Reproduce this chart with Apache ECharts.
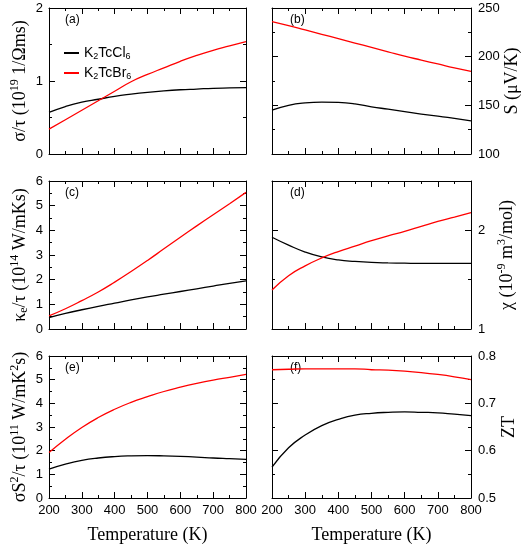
<!DOCTYPE html>
<html><head><meta charset="utf-8">
<script src="https://cdn.jsdelivr.net/npm/echarts@6/dist/echarts.min.js"></script>
<style>html,body{margin:0;padding:0;background:#fff}#c{width:524px;height:545px}</style>
</head><body><div id="c"></div>
<script>
const temps = [200,250,300,350,400,450,500,550,600,650,700,750,800];
const seriesNames = ['K2TcCl6','K2TcBr6'];
// (a) sigma/tau
const sigmaCl = [0.57,0.65,0.71,0.75,0.79,0.82,0.845,0.865,0.88,0.89,0.90,0.905,0.91];
const sigmaBr = [0.34,0.47,0.60,0.73,0.86,0.99,1.09,1.18,1.27,1.35,1.42,1.48,1.54];
// (b) S
const seebCl = [145,150,152.5,153.3,153,151.5,148.5,146,143.5,141,139,136.5,134];
const seebBr = [236,232,227.5,223,218.5,214,209.5,205,200.5,196.5,192.5,188.5,185];
// (c) kappa_e/tau
const kappaCl = [0.46,0.63,0.78,0.92,1.05,1.18,1.30,1.41,1.52,1.63,1.74,1.85,1.95];
const kappaBr = [0.53,0.82,1.15,1.50,1.90,2.33,2.78,3.25,3.72,4.18,4.63,5.08,5.54];
// (d) chi
const chiCl = [1.93,1.85,1.78,1.73,1.70,1.685,1.675,1.67,1.667,1.665,1.665,1.665,1.665];
const chiBr = [1.395,1.54,1.64,1.72,1.785,1.84,1.895,1.945,1.99,2.04,2.09,2.135,2.18];
// (e) power factor
const pfCl = [1.22,1.43,1.59,1.69,1.75,1.78,1.79,1.78,1.76,1.73,1.69,1.66,1.63];
const pfBr = [1.92,2.48,2.98,3.40,3.75,4.04,4.28,4.50,4.68,4.84,4.98,5.10,5.22];
// (f) ZT
const ztCl = [0.565,0.606,0.633,0.653,0.666,0.675,0.679,0.681,0.682,0.681,0.680,0.677,0.674];
const ztBr = [0.771,0.772,0.773,0.773,0.773,0.773,0.771,0.770,0.768,0.765,0.761,0.756,0.750];
const xTicks = {min:200, max:800, interval:100};
const panelLabels = ['(a)','(b)','(c)','(d)','(e)','(f)'];

const serif = 'Liberation Serif';
const sans = 'Liberation Sans';
const nameRich = {
  n:{fontFamily:serif,fontSize:18,color:'#000'},
  sup:{fontFamily:serif,fontSize:12,color:'#000',padding:[0,0,10,0]},
  sub:{fontFamily:serif,fontSize:12,color:'#000',padding:[8,0,0,0]}
};
const panels = [
  {grid:{left:49,top:8,width:197,height:146}, y:{min:0,max:2,interval:1}, side:'left',
   name:'{n|σ/τ (10}{sup|19}{n| 1/Ωms)}', data:[sigmaCl,sigmaBr], xl:false},
  {grid:{left:272,top:8,width:199,height:146}, y:{min:100,max:250,interval:50}, side:'right',
   name:'{n|S (μV/K)}', data:[seebCl,seebBr], xl:false},
  {grid:{left:49,top:181,width:197,height:148}, y:{min:0,max:6,interval:1}, side:'left',
   name:'{n|κ}{sub|e}{n|/τ (10}{sup|14}{n| W/mKs)}', data:[kappaCl,kappaBr], xl:false},
  {grid:{left:272,top:181,width:199,height:148}, y:{min:1,max:2.5,interval:1}, side:'right',
   name:'{n|χ (10}{sup|-9}{n| m}{sup|3}{n|/mol)}', data:[chiCl,chiBr], xl:false, noMax:true},
  {grid:{left:49,top:356,width:197,height:148}, y:{min:0,max:6,interval:1}, side:'left',
   name:'{n|σS}{sup|2}{n|/τ (10}{sup|11}{n| W/mK}{sup|2}{n|s)}', data:[pfCl,pfBr], xl:true},
  {grid:{left:272,top:356,width:199,height:148}, y:{min:0.5,max:0.8,interval:0.1}, side:'right',
   name:'{n|ZT}', data:[ztCl,ztBr], xl:true}
];
const colors = ['#000000','#ff0000'];
const lineAx = {show:true,onZero:false,lineStyle:{color:'#000',width:1}};
const tick = {show:true,inside:true,length:6,lineStyle:{color:'#000'}};
const minor = {show:true,splitNumber:2,length:3,lineStyle:{color:'#000'}};

const grid=[], xAxis=[], yAxis=[], series=[], graphic=[];
panels.forEach((p,i)=>{
  grid.push(p.grid);
  xAxis.push({type:'value',gridIndex:i,position:'bottom',min:xTicks.min,max:xTicks.max,interval:xTicks.interval,
    axisLine:lineAx,axisTick:tick,minorTick:minor,splitLine:{show:false},
    axisLabel:{show:p.xl,fontFamily:sans,fontSize:13,color:'#000',margin:6},
    name:p.xl?'Temperature (K)':'',nameLocation:'middle',nameGap:28,
    nameTextStyle:{fontFamily:serif,fontSize:18,color:'#000'}});
  xAxis.push({type:'value',gridIndex:i,position:'top',min:xTicks.min,max:xTicks.max,interval:xTicks.interval,
    axisLine:lineAx,axisTick:tick,minorTick:minor,splitLine:{show:false},axisLabel:{show:false}});
  const other = p.side==='left'?'right':'left';
  yAxis.push({type:'value',gridIndex:i,position:p.side,min:p.y.min,max:p.y.max,interval:p.y.interval,
    axisLine:lineAx,axisTick:tick,minorTick:minor,splitLine:{show:false},
    axisLabel:{fontFamily:sans,fontSize:13,color:'#000',margin:p.side==='left'?6:7,showMaxLabel:!p.noMax},
    name:p.name,nameLocation:'middle',nameRotate:90,nameGap:p.side==='left'?18:25,
    nameTextStyle:{rich:nameRich}});
  yAxis.push({type:'value',gridIndex:i,position:other,min:p.y.min,max:p.y.max,interval:p.y.interval,
    axisLine:lineAx,axisTick:tick,minorTick:minor,splitLine:{show:false},axisLabel:{show:false}});
  p.data.forEach((arr,k)=>{
    series.push({type:'line',name:seriesNames[k],xAxisIndex:2*i,yAxisIndex:2*i,smooth:true,
      showSymbol:false,symbol:'none',lineStyle:{color:colors[k],width:1.3},itemStyle:{color:colors[k]},
      data:temps.map((t,j)=>[t,arr[j]])});
  });
  const gx = p.grid.left + (p.side==='left'?16:18);
  graphic.push({type:'text',left:gx,top:p.grid.top+6,
    style:{text:panelLabels[i],fontFamily:sans,fontSize:12,fill:'#000'}});
});

const chart = echarts.init(document.getElementById('c'),null,{renderer:'canvas'});
chart.setOption({
  animation:false,
  backgroundColor:'#fff',
  grid, xAxis, yAxis, series, graphic,
  legend:{data:seriesNames,left:59,top:41,orient:'vertical',itemGap:5,itemWidth:15,itemHeight:2,
    icon:'rect',
    formatter:n=> n==='K2TcCl6' ? '{n|K}{s|2}{n|TcCl}{s|6}' : '{n|K}{s|2}{n|TcBr}{s|6}',
    textStyle:{rich:{n:{fontFamily:sans,fontSize:14,color:'#000'},s:{fontFamily:sans,fontSize:9,color:'#000',padding:[7,0,0,0]}}}}
});
</script></body></html>
